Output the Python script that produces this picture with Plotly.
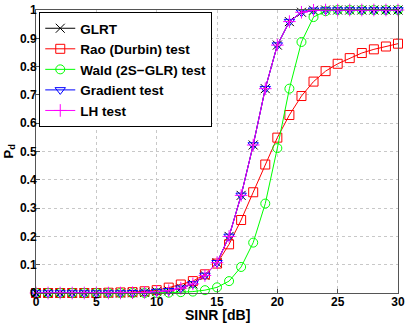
import plotly.graph_objects as go

sinr = list(range(0, 31))

pd_glrt = [0, 0, 0, 0, 0, 0, 0, 0, 0.001, 0.002, 0.005, 0.008, 0.017, 0.032, 0.062, 0.107,
           0.2, 0.345, 0.523, 0.722, 0.876, 0.959, 0.992, 0.999, 1, 1, 1, 1, 1, 1, 1]
pd_rao = [0, 0, 0, 0, 0, 0, 0.001, 0.002, 0.003, 0.006, 0.01, 0.019, 0.03, 0.042, 0.066, 0.104,
          0.172, 0.258, 0.356, 0.454, 0.549, 0.629, 0.696, 0.747, 0.784, 0.81, 0.83, 0.848, 0.861, 0.871, 0.881]
pd_wald = [0, 0, 0, 0, 0, 0, 0, 0, 0, 0, 0, 0.001, 0.003, 0.005, 0.01, 0.02,
           0.042, 0.092, 0.178, 0.316, 0.512, 0.722, 0.887, 0.975, 0.996, 1, 1, 1, 1, 1, 1]
pd_grad = [0, 0, 0, 0, 0, 0, 0, 0, 0.001, 0.002, 0.005, 0.008, 0.017, 0.032, 0.062, 0.107,
           0.2, 0.345, 0.523, 0.722, 0.876, 0.959, 0.992, 0.999, 1, 1, 1, 1, 1, 1, 1]
pd_lh = [0, 0, 0, 0, 0, 0, 0, 0, 0.001, 0.002, 0.005, 0.008, 0.017, 0.032, 0.062, 0.107,
         0.2, 0.345, 0.523, 0.722, 0.876, 0.959, 0.992, 0.999, 1, 1, 1, 1, 1, 1, 1]

series = [
    ("GLRT", pd_glrt, "#000000", "x-thin-open"),
    ("Rao (Durbin) test", pd_rao, "#ff0000", "square-open"),
    ("Wald (2S\u2212GLR) test", pd_wald, "#00ff00", "circle-open"),
    ("Gradient test", pd_grad, "#0000ff", "triangle-down-open"),
    ("LH test", pd_lh, "#ff00ff", "cross-thin-open"),
]

fig = go.Figure()
for name, vals, col, sym in series:
    fig.add_trace(go.Scatter(
        x=sinr, y=vals, name="<b>" + name + "</b>", mode="lines+markers",
        line=dict(color=col, width=1),
        marker=dict(symbol=sym, size=9, color=col, line=dict(color=col, width=1)),
        cliponaxis=False,
    ))

font = "Liberation Sans, Arial, sans-serif"
bold = dict(family=font, size=12, color="black", weight="bold")
fig.update_layout(
    width=407, height=326,
    margin=dict(l=36, r=9, t=10, b=33),
    paper_bgcolor="white", plot_bgcolor="white",
    font=dict(family=font, size=12, color="black"),
    showlegend=True,
    legend=dict(
        x=0.009, y=0.993, xanchor="left", yanchor="top",
        bgcolor="white", bordercolor="black", borderwidth=1,
        font=dict(size=13.5, family=font), tracegroupgap=0,
        itemwidth=30,
    ),
)
axis_common = dict(
    showline=True, mirror=True, linecolor="#555555", linewidth=1,
    ticks="inside", ticklen=4, tickcolor="#555555",
    showgrid=True, gridcolor="#c8c8c8", griddash="dot", gridwidth=1,
    zeroline=False, tickfont=bold, automargin=False,
)
xt = [0, 5, 10, 15, 20, 25, 30]
fig.update_xaxes(range=[0, 30], tickvals=xt, ticktext=[str(v) for v in xt],
                 ticklabelstandoff=-2, **axis_common)
yt = [i / 10 for i in range(11)]
fig.update_yaxes(range=[0, 1], tickvals=yt, ticktext=["%g" % v for v in yt],
                 ticklabelstandoff=-4, **axis_common)

fig.add_annotation(text="SINR [dB]", xref="paper", yref="paper", x=0.5, y=0,
                   yshift=-22, yanchor="middle", showarrow=False,
                   font=dict(family=font, size=14, color="black", weight="bold"))
fig.add_annotation(text="P<sub>d</sub>", xref="paper", yref="paper", x=0, y=0.5,
                   xshift=-27, xanchor="center", textangle=-90, showarrow=False,
                   font=dict(family=font, size=13, color="black", weight="bold"))

# page body has an 8px default margin; drop it so the figure sits at the window corner
fig.write_html("out.html", config={"displayModeBar": False},
               post_script="document.body.style.margin='0';document.body.style.overflow='hidden';")
